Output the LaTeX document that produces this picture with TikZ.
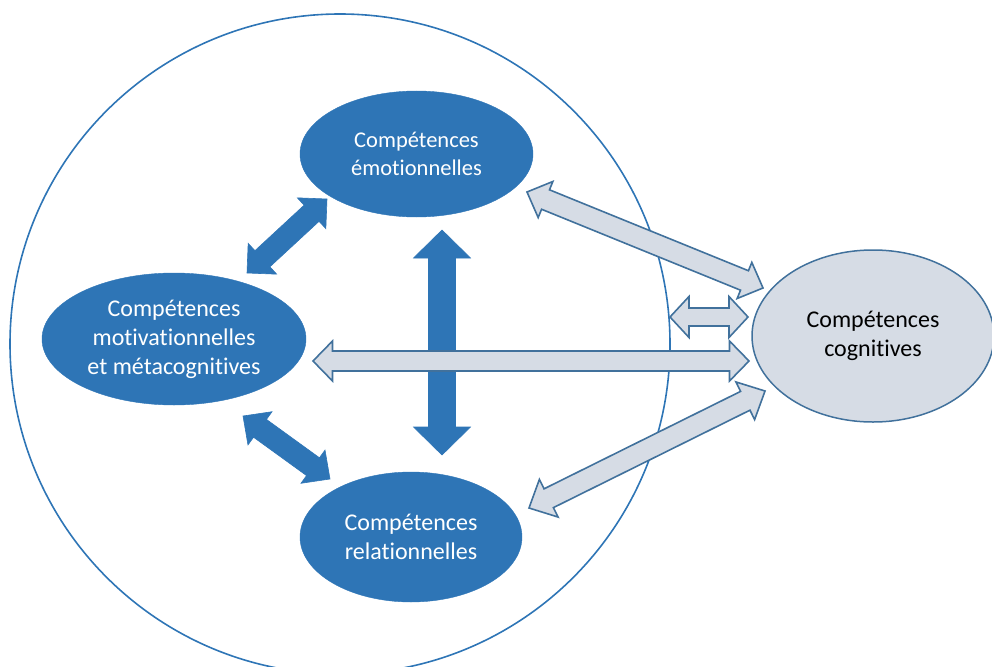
\documentclass[tikz,border=0pt]{standalone}
\usepackage{fontspec}
\setmainfont{Carlito}[Ligatures=NoCommon]
\usetikzlibrary{calc,shapes.geometric}
\definecolor{dblue}{HTML}{2E75B6}
\definecolor{lfill}{HTML}{D6DCE5}
\definecolor{lline}{HTML}{41719C}
\newcommand\blockarrow[6]{%
  \path ($(#2)!#6!(#3)$) coordinate (pa) ($(#3)!#6!(#2)$) coordinate (pb);
  \draw[#1] (#2) -- ($(pa)!#5!90:(#3)$) -- ($(pa)!#4!90:(#3)$)
    -- ($(pb)!#4!-90:(#2)$) -- ($(pb)!#5!-90:(#2)$) -- (#3)
    -- ($(pb)!#5!90:(#2)$) -- ($(pb)!#4!90:(#2)$)
    -- ($(pa)!#4!-90:(#3)$) -- ($(pa)!#5!-90:(#3)$) -- cycle;}
\tikzset{
  darkell/.style={ellipse, fill=dblue, draw=dblue, text=white, inner sep=0pt, align=center},
  lightell/.style={ellipse, fill=lfill, draw=lline, line width=1.5pt, text=black, inner sep=0pt, align=center},
  darkarr/.style={fill=dblue, draw=dblue, line width=0.6pt, line join=miter},
  lightarr/.style={fill=lfill, draw=lline, line width=1.6pt, line join=miter},
  fbig/.style={font=\fontsize{24}{29}\selectfont},
  fsmall/.style={font=\fontsize{22.5}{28}\selectfont}
}
\begin{document}
\begin{tikzpicture}[x=1pt,y=-1pt]
\useasboundingbox (0,0) rectangle (992,666);
\draw[dblue, line width=1.6pt] (340,344) circle[radius=330];
\node[darkell, fsmall, minimum width=233, minimum height=126] (emo) at (416.5,154) {Compétences\\émotionnelles};
\node[darkell, fbig, minimum width=264, minimum height=132] (mot) at (174,339) {Compétences\\motivationnelles\\et métacognitives};
\node[darkell, fbig, minimum width=222, minimum height=130] (rel) at (411,537) {Compétences\\relationnelles};
\node[lightell, fbig, minimum width=242, minimum height=172] (cog) at (873,336) {Compétences\\cognitives};
% arrow end points
\coordinate (e1) at (527,192); \coordinate (c1) at (763,288);
\coordinate (s2a) at (670,317); \coordinate (s2b) at (748,317);
\coordinate (e5) at (442,230); \coordinate (r5) at (442,455);
\coordinate (m3) at (313,361); \coordinate (c3) at (749,361);
\coordinate (r4) at (529,508); \coordinate (c4) at (765,391);
\coordinate (m6) at (247,273); \coordinate (e6) at (327,199);
\coordinate (m7) at (243,416); \coordinate (r7) at (330,479);
\blockarrow{darkarr}{e5}{r5}{13.5pt}{28.5pt}{28pt}
\blockarrow{darkarr}{m6}{e6}{11pt}{21pt}{21pt}
\blockarrow{darkarr}{m7}{r7}{11pt}{20.5pt}{21pt}
\blockarrow{lightarr}{e1}{c1}{10.5pt}{19.5pt}{20pt}
\blockarrow{lightarr}{s2a}{s2b}{9pt}{20.5pt}{19pt}
\blockarrow{lightarr}{m3}{c3}{10pt}{20pt}{19.5pt}
\blockarrow{lightarr}{r4}{c4}{10.5pt}{21pt}{22pt}
\end{tikzpicture}
\end{document}
